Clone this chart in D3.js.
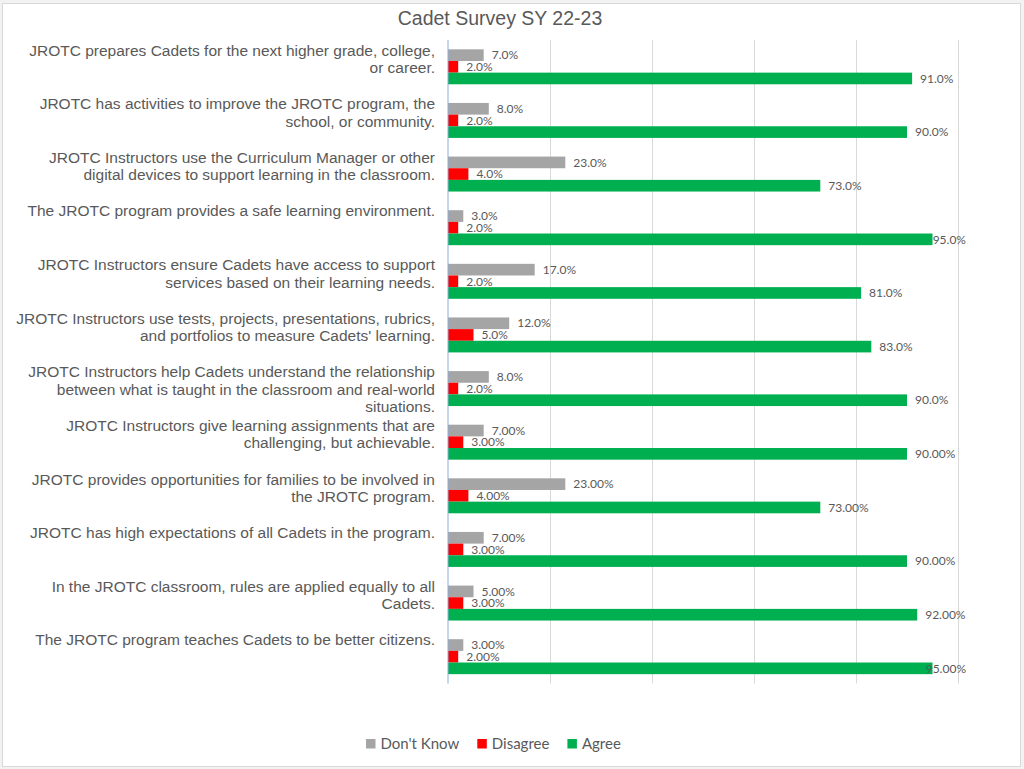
<!DOCTYPE html>
<html>
  <head>
    <title>Cadet Survey SY 22-23</title>
    <style>
      body { margin: 0; background: #fff; }
      svg { display: block; }
    </style>
    <script src="https://cdn.jsdelivr.net/npm/d3@7/dist/d3.min.js"></script>
  </head>
  <body>
    <script>
      // survey statements, split into the lines shown on the axis
      const categories = [
        ['JROTC prepares Cadets for the next higher grade, college,', 'or career.'],
        ['JROTC has activities to improve the JROTC program, the', 'school, or community.'],
        ['JROTC Instructors use the Curriculum Manager or other', 'digital devices to support learning in the classroom.'],
        ['The JROTC program provides a safe learning environment.'],
        ['JROTC Instructors ensure Cadets have access to support', 'services based on their learning needs.'],
        ['JROTC Instructors use tests, projects, presentations, rubrics,', "and portfolios to measure Cadets' learning."],
        ['JROTC Instructors help Cadets understand the relationship', 'between what is taught in the classroom and real-world', 'situations.'],
        ['JROTC Instructors give learning assignments that are', 'challenging, but achievable.'],
        ['JROTC provides opportunities for families to be involved in', 'the JROTC program.'],
        ['JROTC has high expectations of all Cadets in the program.'],
        ['In the JROTC classroom, rules are applied equally to all', 'Cadets.'],
        ['The JROTC program teaches Cadets to be better citizens.']
      ];
      const dontKnow = [7, 8, 23, 3, 17, 12, 8, 7, 23, 7, 5, 3];
      const disagree = [2, 2, 4, 2, 2, 5, 2, 3, 4, 3, 3, 2];
      const agree    = [91, 90, 73, 95, 81, 83, 90, 90, 73, 90, 92, 95];
      // decimals used by each row's data labels
      const decimals = [1, 1, 1, 1, 1, 1, 1, 2, 2, 2, 2, 2];
      const seriesNames = ["Don't Know", 'Disagree', 'Agree'];
      const seriesColors = ['#a5a5a5', '#ff0000', '#00b050'];
      const xTicks = [0, 20, 40, 60, 80, 100];

      const width = 1024, height = 769;
      const plot = { left: 448, right: 958, top: 40, bottom: 683.5 };
      const textColor = '#595959';

      const svg = d3.select('body').append('svg')
        .attr('width', width).attr('height', height);

      // chart frame
      svg.append('rect')
        .attr('x', 0).attr('y', 0).attr('width', width).attr('height', height)
        .attr('fill', '#f2f2f2');
      svg.append('rect')
        .attr('x', 2.5).attr('y', 3.5).attr('width', 1018).attr('height', 763)
        .attr('fill', '#fff').attr('stroke', '#d9d9d9');

      svg.append('text')
        .attr('x', 500).attr('y', 25)
        .attr('text-anchor', 'middle')
        .style('font', '19.5px "Liberation Sans", Arial, sans-serif')
        .attr('fill', textColor)
        .text('Cadet Survey SY 22-23');

      const x = d3.scaleLinear().domain([0, 100]).range([plot.left, plot.right]);
      const y0 = d3.scaleBand().domain(d3.range(categories.length))
        .range([plot.top, plot.bottom]).paddingInner(0.348).paddingOuter(0.174);
      const y1 = d3.scaleBand().domain(d3.range(seriesNames.length))
        .range([0, y0.bandwidth()]);

      // gridlines
      svg.append('g')
        .attr('transform', `translate(0,${plot.top})`)
        .call(d3.axisBottom(x).tickValues(xTicks.slice(1)).tickSize(plot.bottom - plot.top).tickFormat(''))
        .call(g => g.select('.domain').remove())
        .call(g => g.selectAll('.tick line').attr('stroke', '#d9d9d9'));

      const rows = categories.map((c, i) => ({
        i: i,
        values: [dontKnow[i], disagree[i], agree[i]]
      }));

      const groups = svg.append('g').selectAll('g')
        .data(rows)
        .join('g')
        .attr('transform', d => `translate(0,${y0(d.i)})`);

      groups.selectAll('rect')
        .data(d => d.values.map((v, s) => ({ v: v, s: s, dec: decimals[d.i] })))
        .join('rect')
        .attr('x', x(0))
        .attr('y', d => y1(d.s))
        .attr('width', d => x(d.v) - x(0))
        .attr('height', y1.bandwidth())
        .attr('fill', d => seriesColors[d.s]);

      // data labels, kept inside the plot area on the right
      groups.selectAll('text')
        .data(d => d.values.map((v, s) => ({ v: v, s: s, dec: decimals[d.i] })))
        .join('text')
        .attr('y', d => y1(d.s) + y1.bandwidth() / 2)
        .attr('dy', '0.35em')
        .style('font', '12px Lato, "Open Sans", sans-serif')
        .attr('fill', textColor)
        .text(d => d.v.toFixed(d.dec) + '%')
        .attr('x', function (d) {
          const w = this.getComputedTextLength();
          return Math.min(x(d.v) + 8, 966 - w);
        });

      // vertical category axis
      svg.append('line')
        .attr('x1', x(0)).attr('x2', x(0))
        .attr('y1', plot.top).attr('y2', plot.bottom)
        .attr('stroke', '#8eaadb').attr('stroke-width', 1);

      const labels = svg.append('g').selectAll('text')
        .data(categories)
        .join('text')
        .attr('text-anchor', 'end')
        .style('font', '15.5px "Liberation Sans", Arial, sans-serif')
        .attr('fill', textColor);
      labels.selectAll('tspan')
        .data((d, i) => d.map((line, k) => ({ line: line, k: k, i: i })))
        .join('tspan')
        .attr('x', 435)
        .attr('y', d => y0(d.i) - y0.step() * 0.174 + 15.5 + d.k * 17.5)
        .text(d => d.line);

      // legend
      const legend = svg.append('g')
        .style('font', '15px Lato, "Open Sans", sans-serif');
      let lx = 366;
      seriesNames.forEach((name, s) => {
        legend.append('rect')
          .attr('x', lx).attr('y', 739).attr('width', 9.5).attr('height', 9.5)
          .attr('fill', seriesColors[s]);
        const t = legend.append('text')
          .attr('x', lx + 14.5).attr('y', 748.5)
          .attr('fill', textColor)
          .text(name);
        lx += 14.5 + t.node().getComputedTextLength() + 18;
      });
    </script>
  </body>
</html>
